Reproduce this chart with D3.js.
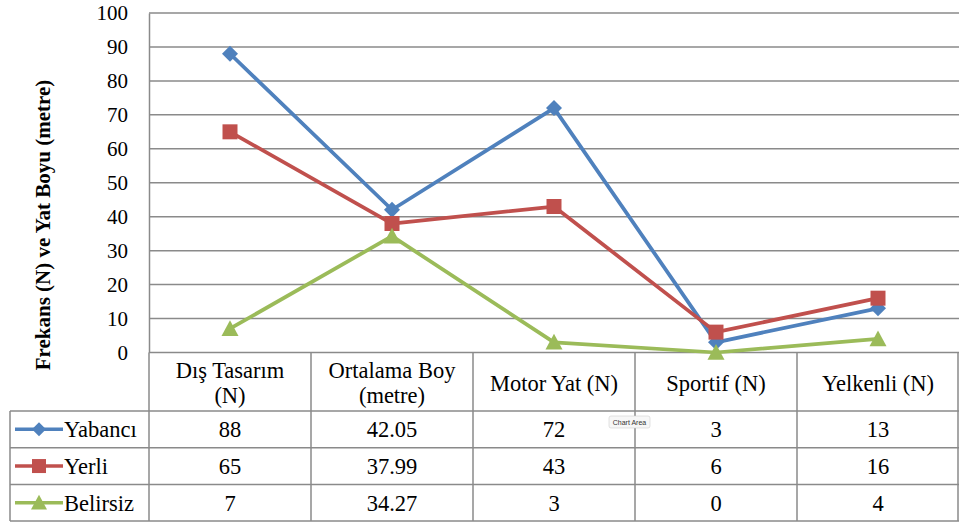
<!DOCTYPE html>
<html>
<head>
<meta charset="utf-8">
<script src="https://cdn.jsdelivr.net/npm/d3@7"></script>
<style>
  html, body { margin: 0; padding: 0; background: #fff; }
  svg { display: block; }
  text { font-family: "Liberation Serif", "Times New Roman", serif; fill: #000; }
</style>
</head>
<body>
<svg id="chart" width="959" height="522"></svg>
<script>
// Categories (header lines of the data table)
const categories = ["Dış Tasarım (N)", "Ortalama Boy (metre)", "Motor Yat (N)", "Sportif (N)", "Yelkenli (N)"];
const categoryLines = [["Dış Tasarım", "(N)"], ["Ortalama Boy", "(metre)"], ["Motor Yat (N)"], ["Sportif (N)"], ["Yelkenli (N)"]];

// Series values
const yabanci = [88, 42.05, 72, 3, 13];
const yerli = [65, 37.99, 43, 6, 16];
const belirsiz = [7, 34.27, 3, 0, 4];

// Formatted values shown in the table
const yabanciText = ["88", "42.05", "72", "3", "13"];
const yerliText = ["65", "37.99", "43", "6", "16"];
const belirsizText = ["7", "34.27", "3", "0", "4"];

const yTicks = [0, 10, 20, 30, 40, 50, 60, 70, 80, 90, 100];
const axisTitle = "Frekans (N) ve Yat Boyu (metre)";

const series = [
  { name: "Yabancı", values: yabanci, labels: yabanciText, color: "#4F81BD", symbol: "diamond" },
  { name: "Yerli", values: yerli, labels: yerliText, color: "#C0504D", symbol: "square" },
  { name: "Belirsiz", values: belirsiz, labels: belirsizText, color: "#9BBB59", symbol: "triangle" }
];

const svg = d3.select("#chart");
const plotLeft = 149, plotRight = 959, plotTop = 13, plotBottom = 352.5;
const gridColor = "#8a8a8a";
const serif = '"Liberation Serif", "Times New Roman", serif';

const x = d3.scaleBand().domain(categories).range([plotLeft, plotRight]).padding(0);
const y = d3.scaleLinear().domain([0, 100]).range([plotBottom, plotTop]);

// Horizontal gridlines
svg.append("g").selectAll("line").data(yTicks).join("line")
  .attr("x1", plotLeft).attr("x2", plotRight)
  .attr("y1", d => y(d)).attr("y2", d => y(d))
  .attr("stroke", gridColor).attr("stroke-width", 1.5);

// Y axis with tick labels
const yAxis = d3.axisLeft(y).tickValues(yTicks).tickSize(0).tickPadding(21);
const yAxisG = svg.append("g").attr("transform", `translate(${plotLeft},0)`).call(yAxis);
yAxisG.attr("font-family", null).attr("font-size", null);
yAxisG.select(".domain").attr("stroke", gridColor).attr("stroke-width", 1.5);
yAxisG.selectAll("text")
  .style("font-family", serif)
  .style("font-size", "21px").attr("fill", "#000");

// Axis title
svg.append("text")
  .attr("transform", "translate(50,225) rotate(-90)")
  .attr("text-anchor", "middle")
  .style("font-size", "21px").style("font-weight", "bold")
  .text(axisTitle);

// Data table
const rowTop = 411, rowH = 36.7, tableBottom = 521;
const headerTop = 352.5;
const tableLeft = 10;
const tg = svg.append("g");
// vertical lines between categories
const colEdges = categories.map(c => x(c)).concat([plotRight - 1]);
tg.selectAll("line.v").data(colEdges).join("line")
  .attr("x1", d => d).attr("x2", d => d)
  .attr("y1", headerTop).attr("y2", tableBottom)
  .attr("stroke", gridColor).attr("stroke-width", 1.5);
// legend column left edge
tg.append("line").attr("x1", tableLeft).attr("x2", tableLeft)
  .attr("y1", rowTop).attr("y2", tableBottom)
  .attr("stroke", gridColor).attr("stroke-width", 1.5);
// horizontal row lines
const rowLines = [0, 1, 2, 3].map(i => rowTop + i * rowH);
tg.selectAll("line.h").data(rowLines).join("line")
  .attr("x1", tableLeft).attr("x2", plotRight)
  .attr("y1", d => d).attr("y2", d => d)
  .attr("stroke", gridColor).attr("stroke-width", 1.5);

// header text
categories.forEach((c, i) => {
  const lines = categoryLines[i];
  const cx = x(c) + x.bandwidth() / 2;
  const t = tg.append("text").attr("text-anchor", "middle").style("font-size", "22.5px");
  const firstBaseline = lines.length === 2 ? 378 : 391;
  lines.forEach((l, j) => {
    t.append("tspan").attr("x", cx).attr("y", firstBaseline + j * 25).text(l);
  });
});

function markerPath(kind, s) {
  if (kind === "diamond") return `M0,${-s}L${s},0L0,${s}L${-s},0Z`;
  if (kind === "square") return `M${-s},${-s}H${s}V${s}H${-s}Z`;
  return `M0,${-s}L${s},${s * 0.85}H${-s}Z`;
}

// table values and legend keys
series.forEach((s, i) => {
  const cy = rowTop + i * rowH + rowH / 2;
  s.labels.forEach((v, j) => {
    tg.append("text")
      .attr("x", x(categories[j]) + x.bandwidth() / 2)
      .attr("y", cy + 8)
      .attr("text-anchor", "middle")
      .style("font-size", "22.5px")
      .text(v);
  });
  tg.append("line").attr("x1", 15).attr("x2", 63).attr("y1", cy).attr("y2", cy)
    .attr("stroke", s.color).attr("stroke-width", 3.5);
  tg.append("path")
    .attr("d", markerPath(s.symbol, s.symbol === "triangle" ? 8 : 7))
    .attr("transform", `translate(39,${cy})`)
    .attr("fill", s.color);
  tg.append("text").attr("x", 64).attr("y", cy + 8)
    .style("font-size", "22.5px").text(s.name);
});

// Lines and markers
const line = d3.line()
  .x((d, i) => x(categories[i]) + x.bandwidth() / 2)
  .y(d => y(d));

series.forEach(s => {
  const g = svg.append("g");
  g.append("path").datum(s.values)
    .attr("d", line)
    .attr("fill", "none").attr("stroke", s.color)
    .attr("stroke-width", 3.75).attr("stroke-linejoin", "round");
  const size = s.symbol === "diamond" ? 8 : s.symbol === "square" ? 7.5 : 8.5;
  g.selectAll("path.m").data(s.values).join("path")
    .attr("class", "m")
    .attr("d", markerPath(s.symbol, size))
    .attr("transform", (d, i) => `translate(${x(categories[i]) + x.bandwidth() / 2},${y(d)})`)
    .attr("fill", s.color);
});

// Hover tooltip box
const tip = svg.append("g").attr("transform", "translate(609,416)");
tip.append("rect").attr("width", 41).attr("height", 12).attr("rx", 2)
  .attr("fill", "#f7f7f7").attr("stroke", "#d0d0d0").attr("stroke-width", 0.6);
tip.append("text").attr("x", 20.5).attr("y", 9).attr("text-anchor", "middle")
  .style("font-family", '"Liberation Sans", Arial, sans-serif')
  .style("font-size", "7px").style("fill", "#333").text("Chart Area");
</script>
</body>
</html>
